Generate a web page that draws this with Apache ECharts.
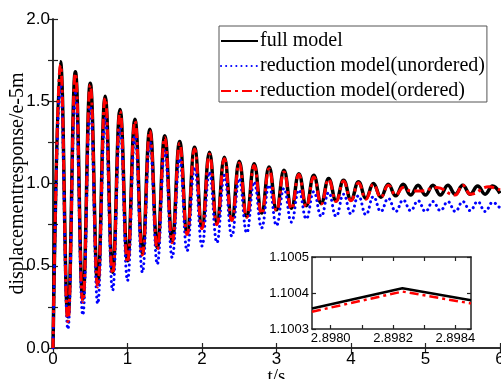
<!DOCTYPE html>
<html><head><meta charset="utf-8">
<script src="https://cdn.jsdelivr.net/npm/echarts@6/dist/echarts.min.js"></script>
<style>html,body{margin:0;padding:0;background:#fff}#c{width:501px;height:379px}</style>
</head><body><div id="c"></div>
<script>
// Main chart: times of extrema (s) and values (e-5 m)
const tFull = [0,0.1,0.2,0.3,0.4,0.5,0.6,0.7,0.8,0.9,1.0,1.1,1.2,1.3,1.4,1.5,1.6,1.7,1.8,1.9,2.0,2.1,2.2,2.3,2.4,2.5,2.6,2.7,2.8,2.9,3.0,3.1,3.2,3.3,3.4,3.5,3.6,3.7,3.8,3.9,4.0,4.1,4.2,4.3,4.4,4.5,4.6,4.7,4.8,4.9,5.0,5.1,5.2,5.3,5.4,5.5,5.6,5.7,5.8,5.9,6.0];
const fullModel = [0,1.74,0.19,1.68,0.30,1.61,0.39,1.53,0.46,1.45,0.53,1.39,0.575,1.33,0.61,1.29,0.65,1.255,0.70,1.22,0.735,1.19,0.76,1.16,0.78,1.135,0.80,1.12,0.82,1.10,0.84,1.08,0.85,1.06,0.865,1.05,0.88,1.03,0.895,1.02,0.90,1.01,0.91,1.00,0.917,0.995,0.925,0.995,0.93,0.99,0.93,0.99,0.93,0.99,0.935,0.99,0.935,0.985,0.935,0.985,0.94];
const tUnordered = tFull;
const unorderedModel = [0,1.60,0.115,1.55,0.20,1.47,0.27,1.40,0.35,1.34,0.41,1.29,0.46,1.25,0.51,1.20,0.55,1.15,0.59,1.10,0.62,1.07,0.64,1.05,0.68,1.03,0.70,1.01,0.73,0.99,0.745,0.97,0.765,0.96,0.785,0.95,0.80,0.945,0.80,0.935,0.815,0.925,0.81,0.92,0.83,0.91,0.83,0.90,0.835,0.895,0.83,0.89,0.835,0.89,0.83,0.89,0.835,0.89,0.83,0.885,0.85];
const tOrdered = [0,0.1,0.2,0.3,0.4,0.5,0.6,0.7,0.8,0.9,1.0,1.1,1.2,1.3,1.4,1.5,1.6,1.7,1.8,1.9,2.0,2.1,2.2,2.3,2.4,2.5,2.6,2.7,2.8,2.9,3.0,3.1,3.2,3.3,3.4,3.5,3.6,3.7,3.8,3.9,4.0,4.1,4.2,4.3,4.4,4.5,4.6,4.7,4.8,4.95,5.15,5.4,5.5,5.6,5.85,6.0];
const orderedModel = [0,1.72,0.16,1.67,0.28,1.60,0.37,1.52,0.45,1.44,0.52,1.38,0.565,1.32,0.60,1.28,0.64,1.245,0.69,1.21,0.725,1.18,0.75,1.15,0.775,1.125,0.795,1.11,0.815,1.09,0.835,1.07,0.845,1.055,0.86,1.04,0.875,1.025,0.89,1.015,0.895,1.005,0.905,0.995,0.915,0.99,0.93,0.975,0.955,0.955,0.975,0.93,0.99,0.935,0.98,0.96];
const xTicks = [0,1,2,3,4,5,6];
const yTicks = [0,0.5,1.0,1.5,2.0];
// Inset (zoom near t = 2.8982 s)
const insetT = [2.89794,2.89823,2.89845];
const insetFull = [1.100357,1.100413,1.10038];
const insetOrdered = [1.100348,1.100404,1.100371];
const insetXLabels = [2.8980,2.8982,2.8984];
const insetXTicks = [2.8980,2.8981,2.8982,2.8983,2.8984];
const insetYLabels = [1.1003,1.1004,1.1005];
const names = ['full model','reduction model(unordered)','reduction model(ordered)'];

const pairs = (t, v) => t.map((x, i) => [x, v[i]]);
const SANS = 'Liberation Sans', SERIF = 'Liberation Serif';
const axLine = {show: true, lineStyle: {color: '#222', width: 1.5}};
const tickIn = {show: true, inside: true, length: 5, lineStyle: {color: '#222', width: 1.2}};
const chart = echarts.init(document.getElementById('c'), null, {renderer: 'canvas'});
chart.setOption({
  animation: false,
  backgroundColor: '#fff',
  grid: [
    {left: 53, right: 1, top: 19, bottom: 31, containLabel: false, outerBoundsMode: 'none'},
    {left: 312, right: 30, top: 257, bottom: 50, containLabel: false, outerBoundsMode: 'none', show: true, backgroundColor: '#fff', borderWidth: 0, z: 5}
  ],
  xAxis: [
    {gridIndex: 0, type: 'value', min: 0, max: 6, interval: 1, position: 'bottom',
     name: 't/s', nameLocation: 'middle', nameGap: 20, nameMoveOverlap: false,
     nameTextStyle: {fontFamily: SERIF, fontSize: 19, color: '#000'},
     axisLine: axLine, axisTick: tickIn, splitLine: {show: false},
     axisLabel: {fontFamily: SANS, fontSize: 17, color: '#000', margin: 3, customValues: xTicks}},
    {gridIndex: 0, type: 'value', min: 0, max: 6, interval: 1, position: 'top',
     axisLine: axLine, axisTick: tickIn, axisLabel: {show: false}, splitLine: {show: false}},
    {gridIndex: 1, type: 'value', min: 2.89794, max: 2.89845, position: 'bottom', z: 6,
     axisLine: axLine, axisTick: Object.assign({}, tickIn, {customValues: insetXTicks, length: 4}), splitLine: {show: false},
     axisLabel: {fontFamily: SANS, fontSize: 13, color: '#000', margin: 3, customValues: insetXLabels, formatter: v => v.toFixed(4)}},
    {gridIndex: 1, type: 'value', min: 2.89794, max: 2.89845, position: 'top', z: 6,
     axisLine: axLine, axisTick: Object.assign({}, tickIn, {customValues: insetXTicks, length: 4}), axisLabel: {show: false}, splitLine: {show: false}}
  ],
  yAxis: [
    {gridIndex: 0, type: 'value', min: 0, max: 2, interval: 0.5, position: 'left',
     name: 'displacementresponse/e-5m', nameLocation: 'middle', nameGap: 25, nameMoveOverlap: false,
     nameTextStyle: {fontFamily: SERIF, fontSize: 20, color: '#000'},
     axisLine: axLine, axisTick: tickIn, minorTick: {show: true, splitNumber: 2, length: 5, lineStyle: {color: '#222', width: 1.2}},
     splitLine: {show: false},
     axisLabel: {fontFamily: SANS, fontSize: 17, color: '#000', margin: 3, customValues: yTicks, formatter: v => v.toFixed(1)}},
    {gridIndex: 0, type: 'value', min: 0, max: 2, interval: 0.5, position: 'right',
     axisLine: axLine, axisTick: tickIn, minorTick: {show: true, splitNumber: 2, length: 5, lineStyle: {color: '#222', width: 1.2}},
     axisLabel: {show: false}, splitLine: {show: false}},
    {gridIndex: 1, type: 'value', min: 1.1003, max: 1.1005, position: 'left', z: 6,
     axisLine: axLine, axisTick: Object.assign({}, tickIn, {customValues: insetYLabels, length: 4}), splitLine: {show: false},
     axisLabel: {fontFamily: SANS, fontSize: 13, color: '#000', margin: 3, customValues: insetYLabels, formatter: v => v.toFixed(4)}},
    {gridIndex: 1, type: 'value', min: 1.1003, max: 1.1005, position: 'right', z: 6,
     axisLine: axLine, axisTick: Object.assign({}, tickIn, {customValues: insetYLabels, length: 4}), axisLabel: {show: false}, splitLine: {show: false}}
  ],
  legend: {
    show: true, orient: 'vertical', left: 219, top: 26,
    padding: [5, 2, 1, 1], itemGap: 5, itemWidth: 37, itemHeight: 14,
    backgroundColor: '#fff', borderColor: '#555', borderWidth: 1, borderRadius: 0,
    itemStyle: {opacity: 0},
    textStyle: {fontFamily: SERIF, fontSize: 20, color: '#000', padding: [0,0,0,-3]},
    data: names, z: 10
  },
  series: [
    {name: names[0], type: 'line', xAxisIndex: 0, yAxisIndex: 0, data: pairs(tFull, fullModel),
     smooth: 0.45, smoothMonotone: 'x', symbol: 'none', clip: true,
     lineStyle: {color: '#000', width: 3.5}, itemStyle: {color: '#000'}, z: 2},
    {name: names[1], type: 'line', xAxisIndex: 0, yAxisIndex: 0, data: pairs(tUnordered, unorderedModel),
     smooth: 0.45, smoothMonotone: 'x', symbol: 'none', clip: true,
     lineStyle: {color: '#0000ff', width: 3, type: [0.1, 5], cap: 'round'}, itemStyle: {color: '#0000ff'}, z: 3},
    {name: names[2], type: 'line', xAxisIndex: 0, yAxisIndex: 0, data: pairs(tOrdered, orderedModel),
     smooth: 0.45, smoothMonotone: 'x', symbol: 'none', clip: true,
     lineStyle: {color: '#ff0000', width: 3, type: [10, 4, 3, 4]}, itemStyle: {color: '#ff0000'}, z: 4},
    {name: 'inset-full', type: 'line', xAxisIndex: 2, yAxisIndex: 2, data: pairs(insetT, insetFull),
     symbol: 'none', clip: true, lineStyle: {color: '#000', width: 2.5}, z: 7, silent: true},
    {name: 'inset-ordered', type: 'line', xAxisIndex: 2, yAxisIndex: 2, data: pairs(insetT, insetOrdered),
     symbol: 'none', clip: true, lineStyle: {color: '#ff0000', width: 2.5, type: [9, 4, 3, 4]}, z: 8, silent: true}
  ]
});
</script></body></html>
